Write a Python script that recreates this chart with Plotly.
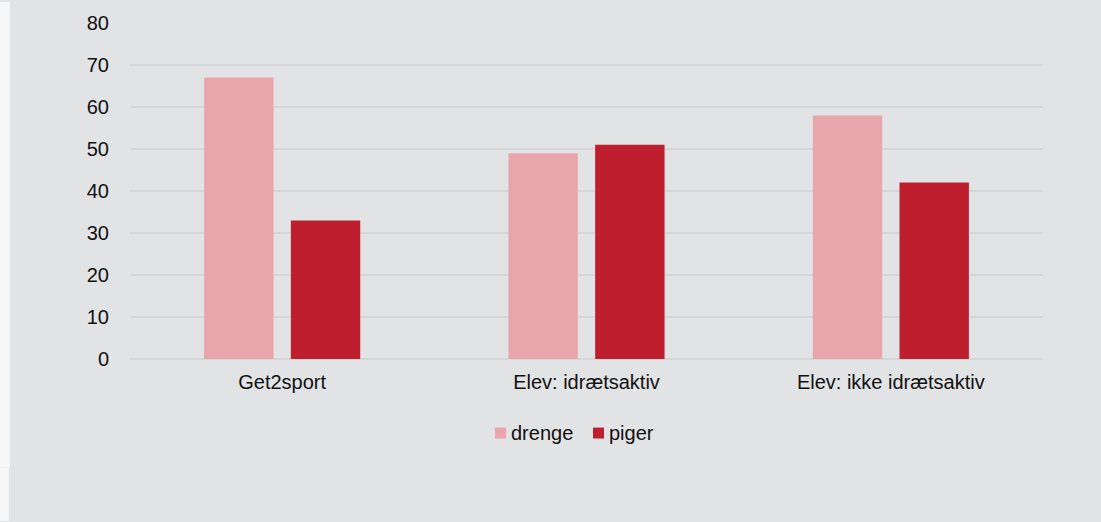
import plotly.graph_objects as go

categories = ["Get2sport", "Elev: idrætsaktiv", "Elev: ikke idrætsaktiv"]
drenge = [67, 49, 58]
piger = [33, 51, 42]
tick_vals = [0, 10, 20, 30, 40, 50, 60, 70, 80]
series_names = ["drenge", "piger"]
series_colors = ["#e8a6ac", "#be1e2e"]

W, H = 1101, 522
L, R, T, B = 130, 58, 21, 163
PW, PH = W - L - R, H - T - B


def px_x(px):
    return (px - L) / PW


def px_y(py):
    return (H - B - py) / PH


fig = go.Figure()
for name, vals, col in zip(series_names, [drenge, piger], series_colors):
    fig.add_trace(go.Bar(name=name, x=categories, y=vals, marker_color=col, marker_line_width=0))

shapes = [
    dict(type="rect", xref="paper", yref="paper", x0=px_x(0), x1=px_x(10),
         y0=px_y(468), y1=px_y(0), fillcolor="#f6f6f7", line_width=0, layer="below"),
    dict(type="rect", xref="paper", yref="paper", x0=px_x(0), x1=px_x(9),
         y0=px_y(H), y1=px_y(468), fillcolor="#f6f6f7", line_width=0, layer="below"),
]
annotations = []
legend_sq_x = [495, 593]
legend_txt_x = [509, 607]
for name, col, sx, tx in zip(series_names, series_colors, legend_sq_x, legend_txt_x):
    shapes.append(dict(type="rect", xref="paper", yref="paper", x0=px_x(sx), x1=px_x(sx + 11),
                       y0=px_y(439), y1=px_y(428), fillcolor=col, line_width=0))
    annotations.append(dict(text=name, xref="paper", yref="paper", x=px_x(tx), y=px_y(433.5),
                            xanchor="left", yanchor="middle", showarrow=False,
                            font=dict(size=20, color="#111111")))

fig.update_layout(
    width=W, height=H,
    margin=dict(l=L, r=R, t=T, b=B, pad=0),
    paper_bgcolor="#e2e3e5",
    plot_bgcolor="#e2e3e5",
    barmode="group",
    bargap=0.43,
    bargroupgap=0.2,
    font=dict(family="Liberation Sans, Arial, sans-serif", size=20, color="#111111"),
    xaxis=dict(showgrid=False, showline=False, ticks="", tickfont=dict(size=20), ticklabelstandoff=9),
    yaxis=dict(range=[0, 80], tickvals=tick_vals, showgrid=True, gridcolor="#d5d6d8", gridwidth=2,
               zeroline=True, zerolinecolor="#d5d6d8", zerolinewidth=2, ticks="", ticklabelstandoff=20,
               tickfont=dict(size=20)),
    showlegend=False,
    shapes=shapes,
    annotations=annotations,
)

fig.write_html("out.html", config={"displayModeBar": False},
               post_script="document.body.style.margin='0px';document.body.style.overflow='hidden';")
